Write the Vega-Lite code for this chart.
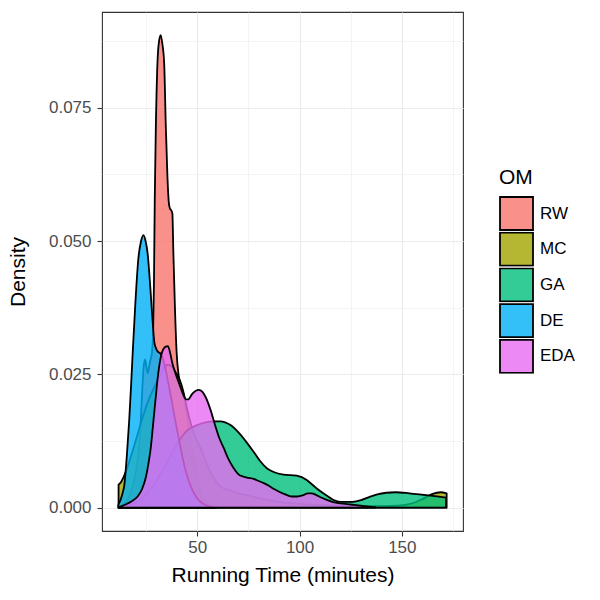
{
  "$schema": "https://vega.github.io/schema/vega-lite/v6.json",
  "width": 361,
  "height": 519,
  "autosize": {"type": "none"},
  "padding": {"left": 102, "top": 12, "right": 137, "bottom": 69},
  "background": "white",
  "config": {"view": {"stroke": "#333333", "strokeWidth": 1.1}, "font": "Liberation Sans"},
  "data": {"values": [
    {"OM":"RW","t":12,"density":0.0003},{"OM":"RW","t":15,"density":0.001},{"OM":"RW","t":18,"density":0.0035},{"OM":"RW","t":20,"density":0.0068},{"OM":"RW","t":21.3,"density":0.0105},{"OM":"RW","t":22.2,"density":0.015},{"OM":"RW","t":23.0,"density":0.0215},{"OM":"RW","t":23.8,"density":0.0265},{"OM":"RW","t":24.5,"density":0.0278},{"OM":"RW","t":25.2,"density":0.0262},{"OM":"RW","t":25.75,"density":0.0252},{"OM":"RW","t":26.3,"density":0.0262},{"OM":"RW","t":27.0,"density":0.0276},{"OM":"RW","t":27.8,"density":0.029},{"OM":"RW","t":28.4,"density":0.033},{"OM":"RW","t":28.8,"density":0.042},{"OM":"RW","t":29.2,"density":0.058},{"OM":"RW","t":29.7,"density":0.0708},{"OM":"RW","t":30.5,"density":0.0833},{"OM":"RW","t":31.3,"density":0.0875},{"OM":"RW","t":32.1,"density":0.0886},{"OM":"RW","t":32.9,"density":0.087},{"OM":"RW","t":33.8,"density":0.0833},{"OM":"RW","t":34.6,"density":0.0715},{"OM":"RW","t":35.4,"density":0.062},{"OM":"RW","t":36.0,"density":0.0575},{"OM":"RW","t":36.6,"density":0.0561},{"OM":"RW","t":37.2,"density":0.0558},{"OM":"RW","t":37.8,"density":0.0552},{"OM":"RW","t":38.3,"density":0.0477},{"OM":"RW","t":39.0,"density":0.0383},{"OM":"RW","t":39.9,"density":0.029},{"OM":"RW","t":41.0,"density":0.0245},{"OM":"RW","t":41.9,"density":0.0227},{"OM":"RW","t":43.5,"density":0.0205},{"OM":"RW","t":45.9,"density":0.0146},{"OM":"RW","t":47.5,"density":0.0105},{"OM":"RW","t":49.2,"density":0.0071},{"OM":"RW","t":51.6,"density":0.0027},{"OM":"RW","t":54,"density":0.0012},{"OM":"RW","t":56.5,"density":0.0006},{"OM":"RW","t":60,"density":0.0002},

    {"OM":"MC","t":11.5,"density":0.0043},{"OM":"MC","t":12.5,"density":0.0047},{"OM":"MC","t":14,"density":0.0058},{"OM":"MC","t":16,"density":0.0078},{"OM":"MC","t":18.5,"density":0.0108},{"OM":"MC","t":21,"density":0.014},{"OM":"MC","t":23.4,"density":0.0171},{"OM":"MC","t":26.5,"density":0.0205},{"OM":"MC","t":29.9,"density":0.0233},{"OM":"MC","t":33.1,"density":0.0258},{"OM":"MC","t":35.5,"density":0.0268},{"OM":"MC","t":37.5,"density":0.0265},{"OM":"MC","t":39.5,"density":0.0253},{"OM":"MC","t":41.5,"density":0.0239},{"OM":"MC","t":43.5,"density":0.0213},{"OM":"MC","t":45,"density":0.0185},{"OM":"MC","t":47,"density":0.0155},{"OM":"MC","t":49.5,"density":0.0128},{"OM":"MC","t":51.6,"density":0.0112},{"OM":"MC","t":53.2,"density":0.0096},{"OM":"MC","t":56,"density":0.007},{"OM":"MC","t":59,"density":0.005},{"OM":"MC","t":62,"density":0.0038},{"OM":"MC","t":66,"density":0.0033},{"OM":"MC","t":70,"density":0.0027},{"OM":"MC","t":75,"density":0.0023},{"OM":"MC","t":80,"density":0.0018},{"OM":"MC","t":90,"density":0.0011},{"OM":"MC","t":100,"density":0.0007},{"OM":"MC","t":115,"density":0.0004},{"OM":"MC","t":135,"density":0.0003},{"OM":"MC","t":148,"density":0.0004},{"OM":"MC","t":155,"density":0.0008},{"OM":"MC","t":160,"density":0.0016},{"OM":"MC","t":165,"density":0.0026},{"OM":"MC","t":169,"density":0.0029},{"OM":"MC","t":171.9,"density":0.0027},

    {"OM":"GA","t":11.5,"density":0.0002},{"OM":"GA","t":15,"density":0.0004},{"OM":"GA","t":19.2,"density":0.0008},{"OM":"GA","t":24,"density":0.0021},{"OM":"GA","t":27.3,"density":0.0035},{"OM":"GA","t":31,"density":0.0057},{"OM":"GA","t":35.4,"density":0.0085},{"OM":"GA","t":40.3,"density":0.0121},{"OM":"GA","t":45.1,"density":0.0145},{"OM":"GA","t":50,"density":0.0155},{"OM":"GA","t":54,"density":0.016},{"OM":"GA","t":58.1,"density":0.0162},{"OM":"GA","t":61.3,"density":0.0162},{"OM":"GA","t":66.2,"density":0.0155},{"OM":"GA","t":71.1,"density":0.0137},{"OM":"GA","t":74,"density":0.0123},{"OM":"GA","t":77.5,"density":0.0105},{"OM":"GA","t":80.8,"density":0.0087},{"OM":"GA","t":84,"density":0.0074},{"OM":"GA","t":87.3,"density":0.0067},{"OM":"GA","t":92.1,"density":0.0062},{"OM":"GA","t":98.6,"density":0.006},{"OM":"GA","t":103.5,"density":0.0052},{"OM":"GA","t":106,"density":0.0044},{"OM":"GA","t":108.4,"density":0.0036},{"OM":"GA","t":113.2,"density":0.0023},{"OM":"GA","t":116.4,"density":0.0015},{"OM":"GA","t":120,"density":0.0011},{"OM":"GA","t":126,"density":0.0011},{"OM":"GA","t":130,"density":0.0014},{"OM":"GA","t":134,"density":0.002},{"OM":"GA","t":138,"density":0.0025},{"OM":"GA","t":142.4,"density":0.0028},{"OM":"GA","t":147,"density":0.0029},{"OM":"GA","t":153.7,"density":0.0027},{"OM":"GA","t":158.6,"density":0.0025},{"OM":"GA","t":165.1,"density":0.0022},{"OM":"GA","t":171.6,"density":0.0019},

    {"OM":"DE","t":11.4,"density":0.0006},{"OM":"DE","t":12.5,"density":0.0015},{"OM":"DE","t":13.5,"density":0.0028},{"OM":"DE","t":14.3,"density":0.0042},{"OM":"DE","t":15.5,"density":0.0095},{"OM":"DE","t":16.7,"density":0.0164},{"OM":"DE","t":17.6,"density":0.0228},{"OM":"DE","t":18.4,"density":0.029},{"OM":"DE","t":19.7,"density":0.0383},{"OM":"DE","t":21.1,"density":0.0464},{"OM":"DE","t":22.5,"density":0.05},{"OM":"DE","t":23.7,"density":0.0511},{"OM":"DE","t":24.7,"density":0.05},{"OM":"DE","t":25.7,"density":0.0477},{"OM":"DE","t":27.0,"density":0.0414},{"OM":"DE","t":28.1,"density":0.0352},{"OM":"DE","t":29.0,"density":0.031},{"OM":"DE","t":29.7,"density":0.03},{"OM":"DE","t":30.8,"density":0.0292},{"OM":"DE","t":31.8,"density":0.029},{"OM":"DE","t":32.5,"density":0.0286},{"OM":"DE","t":33.5,"density":0.0275},{"OM":"DE","t":35,"density":0.025},{"OM":"DE","t":37,"density":0.021},{"OM":"DE","t":39,"density":0.0168},{"OM":"DE","t":41,"density":0.0128},{"OM":"DE","t":43,"density":0.009},{"OM":"DE","t":45,"density":0.006},{"OM":"DE","t":47,"density":0.0038},{"OM":"DE","t":50,"density":0.0017},{"OM":"DE","t":54,"density":0.0005},{"OM":"DE","t":58,"density":0.0001},

    {"OM":"EDA","t":12,"density":0.0001},{"OM":"EDA","t":14.3,"density":0.0005},{"OM":"EDA","t":17.5,"density":0.0011},{"OM":"EDA","t":20.8,"density":0.0021},{"OM":"EDA","t":23,"density":0.0035},{"OM":"EDA","t":24.9,"density":0.0058},{"OM":"EDA","t":26.2,"density":0.0085},{"OM":"EDA","t":27.3,"density":0.0114},{"OM":"EDA","t":28.1,"density":0.0145},{"OM":"EDA","t":28.9,"density":0.0177},{"OM":"EDA","t":29.7,"density":0.0208},{"OM":"EDA","t":30.5,"density":0.0239},{"OM":"EDA","t":31.4,"density":0.0266},{"OM":"EDA","t":32.4,"density":0.0287},{"OM":"EDA","t":33.5,"density":0.0298},{"OM":"EDA","t":34.6,"density":0.0302},{"OM":"EDA","t":35.6,"density":0.0303},{"OM":"EDA","t":36.5,"density":0.0294},{"OM":"EDA","t":37.8,"density":0.0271},{"OM":"EDA","t":39.5,"density":0.025},{"OM":"EDA","t":41.1,"density":0.0233},{"OM":"EDA","t":43,"density":0.0213},{"OM":"EDA","t":44.5,"density":0.0203},{"OM":"EDA","t":45.5,"density":0.0203},{"OM":"EDA","t":47.6,"density":0.0214},{"OM":"EDA","t":50.8,"density":0.0221},{"OM":"EDA","t":52.5,"density":0.0217},{"OM":"EDA","t":54,"density":0.0208},{"OM":"EDA","t":56.5,"density":0.0183},{"OM":"EDA","t":58.9,"density":0.0152},{"OM":"EDA","t":60.5,"density":0.0133},{"OM":"EDA","t":62.9,"density":0.0112},{"OM":"EDA","t":65,"density":0.0093},{"OM":"EDA","t":67.8,"density":0.0074},{"OM":"EDA","t":70,"density":0.0063},{"OM":"EDA","t":72.7,"density":0.0058},{"OM":"EDA","t":75,"density":0.0056},{"OM":"EDA","t":77.5,"density":0.0054},{"OM":"EDA","t":80,"density":0.005},{"OM":"EDA","t":82.5,"density":0.0046},{"OM":"EDA","t":85,"density":0.0041},{"OM":"EDA","t":87.5,"density":0.0035},{"OM":"EDA","t":90,"density":0.003},{"OM":"EDA","t":93,"density":0.0025},{"OM":"EDA","t":96,"density":0.0021},{"OM":"EDA","t":99,"density":0.0021},{"OM":"EDA","t":101.5,"density":0.0023},{"OM":"EDA","t":104,"density":0.0027},{"OM":"EDA","t":106,"density":0.0027},{"OM":"EDA","t":108,"density":0.0024},{"OM":"EDA","t":110,"density":0.002},{"OM":"EDA","t":113,"density":0.0015},{"OM":"EDA","t":116,"density":0.0011},{"OM":"EDA","t":120,"density":0.0008},{"OM":"EDA","t":125,"density":0.0006},{"OM":"EDA","t":130,"density":0.0004},{"OM":"EDA","t":134,"density":0.0002},{"OM":"EDA","t":137,"density":0.0001}
  ]},
  "mark": {"type": "area", "interpolate": "monotone", "fillOpacity": 0.8, "stroke": "black", "strokeWidth": 1.8, "strokeOpacity": 1, "strokeJoin": "round", "clip": true},
  "encoding": {
    "x": {
      "field": "t", "type": "quantitative",
      "scale": {"domain": [3.4, 179.9], "nice": false, "zero": false},
      "axis": {
        "values": [25, 50, 75, 100, 125, 150, 175],
        "labelExpr": "datum.value % 50 === 0 ? datum.label : ''",
        "labelOverlap": false, "labelFlush": false,
        "domain": false,
        "grid": true, "gridColor": "#EBEBEB",
        "gridWidth": {"condition": {"test": "datum.value % 50 === 0", "value": 1.1}, "value": 0.55},
        "tickColor": "#333333", "tickSize": 5, "tickWidth": 1.1,
        "tickOpacity": {"condition": {"test": "datum.value % 50 === 0", "value": 1}, "value": 0},
        "labelFontSize": 17, "labelColor": "#4D4D4D", "labelPadding": 3, "labelFont": "Liberation Sans",
        "title": "Running Time (minutes)", "titleFontSize": 21, "titleFontWeight": "normal", "titleColor": "black", "titlePadding": 9, "titleFont": "Liberation Sans"
      }
    },
    "y": {
      "field": "density", "type": "quantitative", "stack": null,
      "scale": {"domain": [-0.00437, 0.09295], "nice": false, "zero": false},
      "axis": {
        "values": [0, 0.0125, 0.025, 0.0375, 0.05, 0.0625, 0.075, 0.0875],
        "labelExpr": "abs(datum.value*40 - round(datum.value*40)) < 0.001 ? format(datum.value, '.3f') : ''",
        "labelOverlap": false, "labelFlush": false,
        "domain": false,
        "grid": true, "gridColor": "#EBEBEB",
        "gridWidth": {"condition": {"test": "abs(datum.value*40 - round(datum.value*40)) < 0.001", "value": 1.1}, "value": 0.55},
        "tickColor": "#333333", "tickSize": 5, "tickWidth": 1.1,
        "tickOpacity": {"condition": {"test": "abs(datum.value*40 - round(datum.value*40)) < 0.001", "value": 1}, "value": 0},
        "labelFontSize": 17, "labelColor": "#4D4D4D", "labelPadding": 6, "labelFont": "Liberation Sans",
        "title": "Density", "titleFontSize": 21, "titleFontWeight": "normal", "titleColor": "black", "titlePadding": 20, "titleFont": "Liberation Sans"
      }
    },
    "color": {
      "field": "OM", "type": "nominal",
      "scale": {"domain": ["RW", "MC", "GA", "DE", "EDA"], "range": ["#F8766D", "#A3A500", "#00BF7D", "#00B0F6", "#E76BF3"]},
      "legend": {
        "orient": "none", "legendX": 397, "legendY": 155,
        "title": "OM", "titleFontSize": 21, "titleFontWeight": "normal", "titleColor": "black", "titlePadding": 8, "titleFont": "Liberation Sans",
        "labelFontSize": 17, "labelColor": "black", "labelFont": "Liberation Sans", "labelOffset": 6,
        "symbolType": "square", "symbolSize": 1089, "symbolStrokeColor": "black", "symbolStrokeWidth": 1.8,
        "clipHeight": 35, "rowPadding": 0.7,
        "encode": {"symbols": {"update": {"fillOpacity": {"value": 0.8}, "strokeOpacity": {"value": 1}, "stroke": {"value": "black"}}}}
      }
    }
  }
}
